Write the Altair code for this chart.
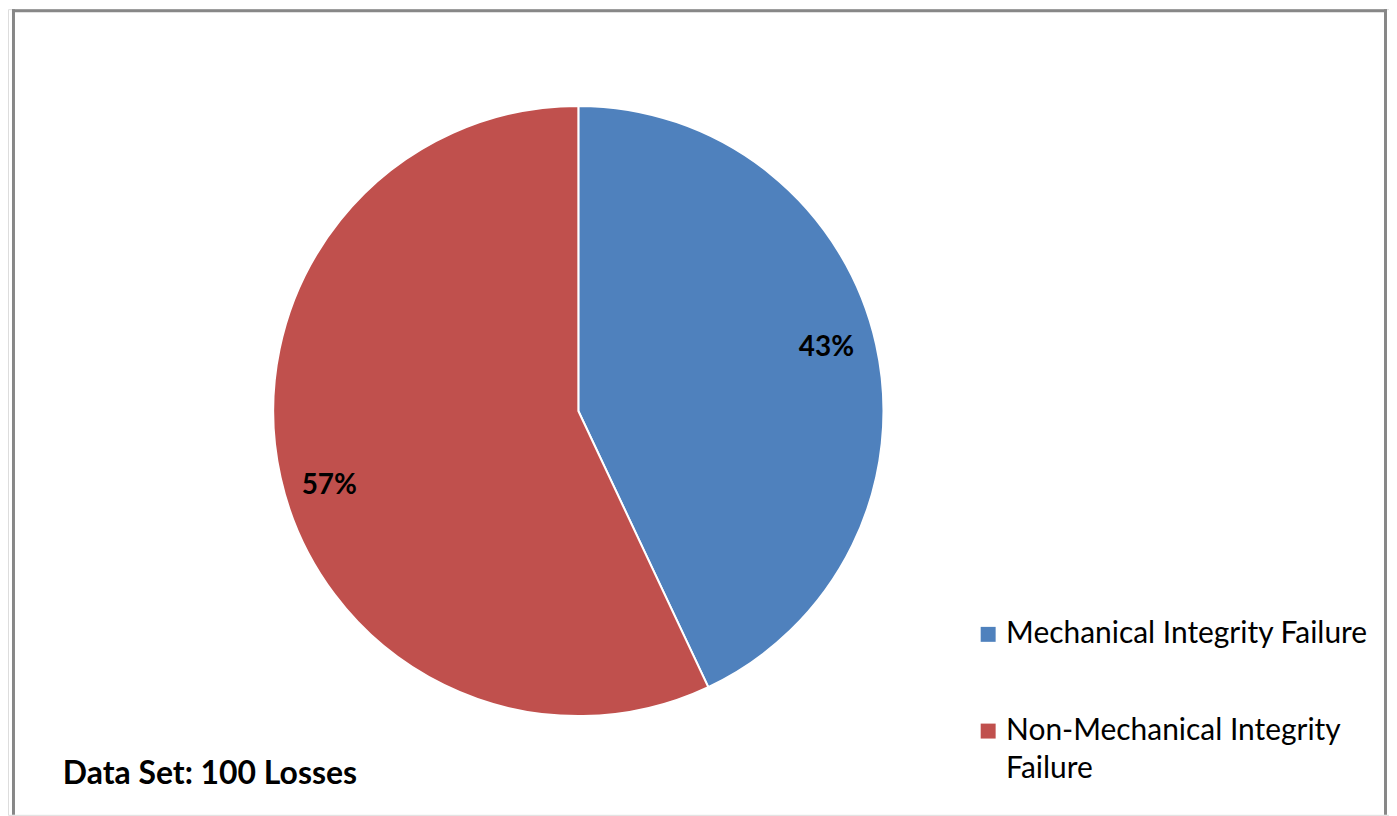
import altair as alt
import pandas as pd

categories = ["Mechanical Integrity Failure", "Non-Mechanical Integrity Failure"]
shares = [43, 57]
colors = ["#4F81BD", "#C0504D"]
note = "Data Set: 100 Losses"

df = pd.DataFrame({"category": categories, "share": shares, "order": [0, 1]})
df["label"] = df["share"].astype(str) + "%"

W, H = 1385, 808
CX, CY, R = 572, 403, 306
FONT = "Lato"

color_scale = alt.Scale(domain=categories, range=colors)

pie = alt.Chart(df).mark_arc(stroke="white", strokeWidth=2, radius=R).encode(
    theta=alt.Theta("share:Q", stack=True),
    order=alt.Order("order:Q"),
    color=alt.Color(
        "category:N",
        scale=color_scale,
        legend=alt.Legend(
            title=None,
            orient="none",
            legendX=968,
            legendY=612,
            symbolType="square",
            symbolSize=225,
            symbolStrokeWidth=0,
            labelFont=FONT,
            labelFontSize=30,
            labelColor="#000000",
            labelOffset=3,
            labelLimit=500,
            rowPadding=67,
            labelExpr="datum.label == 'Non-Mechanical Integrity Failure' ? ['Non-Mechanical Integrity', 'Failure'] : datum.label",
        ),
    ),
    x=alt.value(CX),
    y=alt.value(CY),
)

lab_base = alt.Chart(df).transform_window(
    cum="sum(share)", sort=[alt.SortField("order")]
).transform_joinaggregate(total="sum(share)").transform_calculate(
    mid="(datum.cum - datum.share / 2) / datum.total * 2 * PI"
)

def label_layer(cat, dx, dy):
    return lab_base.transform_filter(alt.datum.category == cat).mark_text(
        font=FONT, fontSize=28, fontWeight="bold", color="#000000", radius=257, dx=dx, dy=dy
    ).encode(
        theta=alt.Theta("mid:Q", scale=alt.Scale(domain=[0, 6.283185307179586], range=[0, 6.283185307179586])),
        text="label:N",
        x=alt.value(CX),
        y=alt.value(CY),
    )

labels = alt.layer(label_layer(categories[0], -2, -7), label_layer(categories[1], 1, 19))

note_df = pd.DataFrame({"t": [note]})
note_text = alt.Chart(note_df).mark_text(
    font=FONT, fontSize=32, fontWeight="bold", color="#000000", align="left", baseline="middle"
).encode(text="t:N", x=alt.value(55), y=alt.value(767))

frame_df = pd.DataFrame({"f": [1]})
fb = alt.Chart(frame_df)
frame_top = fb.mark_rect(fill="#878787", stroke=None).encode(
    x=alt.value(4), x2=alt.value(1383), y=alt.value(0), y2=alt.value(3)
)
frame_left = fb.mark_rect(fill="#878787", stroke=None).encode(
    x=alt.value(4), x2=alt.value(7), y=alt.value(0), y2=alt.value(H)
)
frame_right = fb.mark_rect(fill="#878787", stroke=None).encode(
    x=alt.value(1380), x2=alt.value(1383), y=alt.value(0), y2=alt.value(H)
)

chart = alt.layer(frame_top, frame_left, frame_right, pie, labels, note_text).resolve_scale(
    theta="independent"
).properties(
    width=W, height=H, padding=0, autosize=alt.AutoSizeParams(type="none")
).configure_view(stroke=None).configure(style={"guide-label": {"lineHeight": 38}})

chart.save("out.html", embed_options={"renderer": "svg", "actions": False})
